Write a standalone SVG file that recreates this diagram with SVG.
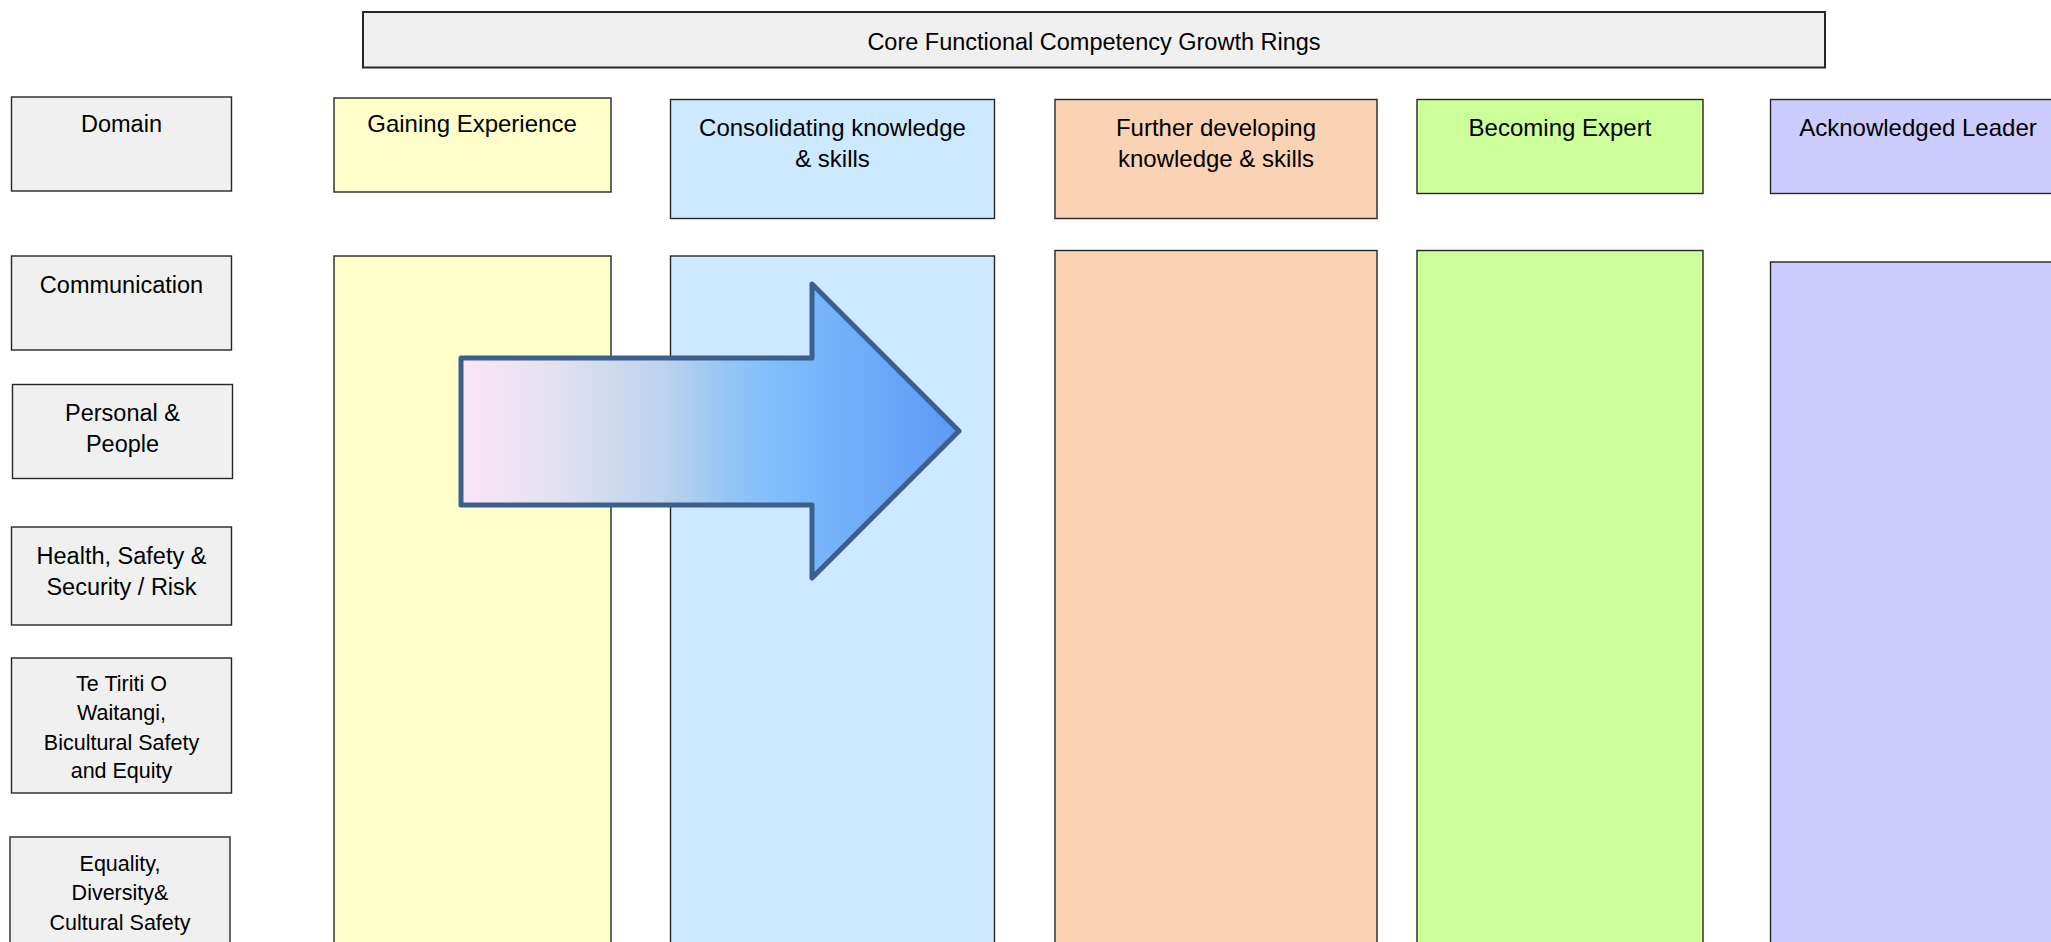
<svg xmlns="http://www.w3.org/2000/svg" width="2051" height="942" viewBox="0 0 2051 942">
<defs>
<linearGradient id="arrowGrad" x1="461" y1="0" x2="959" y2="0" gradientUnits="userSpaceOnUse">
<stop offset="0" stop-color="#FBE6F6"/>
<stop offset="0.2" stop-color="#E2E0F0"/>
<stop offset="0.4" stop-color="#BDD4EC"/>
<stop offset="0.55" stop-color="#92C4F4"/>
<stop offset="0.62" stop-color="#82BEFD"/>
<stop offset="1" stop-color="#5C9AF5"/>
</linearGradient>
</defs>
<style>
.box{stroke:#262626;stroke-width:1.4}
.grey{fill:#F0F0F0}
.yel{fill:#FFFFCC}
.blu{fill:#CCE9FF}
.ora{fill:#FAD3B4}
.grn{fill:#CCFF99}
.pur{fill:#CCCCFF}
text{font-family:"Liberation Sans",Arial,sans-serif;fill:#000;text-anchor:middle}
.t24{font-size:24px}
.t23{font-size:23.5px}
.t21{font-size:21.5px}
</style>
<rect width="2051" height="942" fill="#FFFFFF"/>

<g id="title">
<rect x="363" y="12" width="1462" height="55.5" class="grey" stroke="#262626" stroke-width="2"/>
<text x="1094" y="49.5" class="t23">Core Functional Competency Growth Rings</text>
</g>

<g id="domain">
<rect x="11.5" y="97" width="220" height="94" class="box grey"/>
<text x="121.5" y="131.5" class="t23">Domain</text>
</g>
<g id="communication">
<rect x="11.5" y="256" width="220" height="94" class="box grey"/>
<text x="121.5" y="292.5" class="t23">Communication</text>
</g>
<g id="personal-people">
<rect x="12.5" y="384.5" width="220" height="94" class="box grey"/>
<text x="122.5" y="420.5" class="t23">Personal &amp;</text>
<text x="122.5" y="452" class="t23">People</text>
</g>
<g id="health-safety">
<rect x="11.5" y="527" width="220" height="98" class="box grey"/>
<text x="121.5" y="563.5" class="t23">Health, Safety &amp;</text>
<text x="121.5" y="595" class="t23">Security / Risk</text>
</g>
<g id="te-tiriti">
<rect x="11.5" y="658" width="220" height="135" class="box grey"/>
<text x="121.5" y="691" class="t21">Te Tiriti O</text>
<text x="121.5" y="720" class="t21">Waitangi,</text>
<text x="121.5" y="749.5" class="t21">Bicultural Safety</text>
<text x="121.5" y="778" class="t21">and Equity</text>
</g>
<g id="equality">
<rect x="10" y="837" width="220" height="130" class="box grey"/>
<text x="120" y="870.5" class="t21">Equality,</text>
<text x="120" y="900" class="t21">Diversity&amp;</text>
<text x="120" y="929.5" class="t21">Cultural Safety</text>
</g>

<g id="gaining-experience">
<rect x="334" y="98" width="277" height="94" class="box yel"/>
<text x="472" y="131.5" class="t24">Gaining Experience</text>
<rect x="334" y="256" width="277" height="700" class="box yel"/>
</g>
<g id="consolidating">
<rect x="670.5" y="99.5" width="324" height="119" class="box blu"/>
<text x="832.5" y="136" class="t24">Consolidating knowledge</text>
<text x="832.5" y="167" class="t24">&amp; skills</text>
<rect x="670.5" y="256" width="324" height="700" class="box blu"/>
</g>
<g id="further-developing">
<rect x="1055" y="99.5" width="322" height="119" class="box ora"/>
<text x="1216" y="136" class="t24">Further developing</text>
<text x="1216" y="167" class="t24">knowledge &amp; skills</text>
<rect x="1055" y="250.5" width="322" height="710" class="box ora"/>
</g>
<g id="becoming-expert">
<rect x="1417" y="99.5" width="286" height="94" class="box grn"/>
<text x="1560" y="135.5" class="t24">Becoming Expert</text>
<rect x="1417" y="250.5" width="286" height="710" class="box grn"/>
</g>
<g id="acknowledged-leader">
<rect x="1770.5" y="99.5" width="295" height="94" class="box pur"/>
<text x="1918" y="136" class="t24">Acknowledged Leader</text>
<rect x="1770.5" y="262" width="295" height="700" class="box pur"/>
</g>

<g id="connectors">
<path id="growth-arrow" d="M461,358 L812,358 L812,284 L959,431 L812,578 L812,505 L461,505 Z" fill="url(#arrowGrad)" stroke="#3C5F8D" stroke-width="5" stroke-linejoin="round"/>
</g>
</svg>
